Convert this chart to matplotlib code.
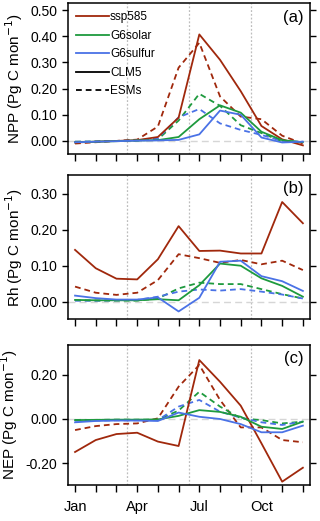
import matplotlib; matplotlib.use('Agg')
import numpy as np
import matplotlib.pyplot as plt
from matplotlib.lines import Line2D

plt.rcParams['font.family'] = ['Liberation Sans', 'DejaVu Sans']

months = np.arange(1, 13)
month_labels = ['Jan', '', '', 'Apr', '', '', 'Jul', '', '', 'Oct', '', '']

# NPP (Pg C mon-1)
npp_ssp585_clm = [-0.006, -0.003, 0.0, 0.003, 0.015, 0.089, 0.407, 0.31, 0.19, 0.057, 0.006, -0.017]
npp_ssp585_esm = [-0.01, -0.005, 0.0, 0.005, 0.055, 0.28, 0.375, 0.17, 0.093, 0.083, 0.02, -0.01]
npp_solar_clm = [-0.005, -0.003, -0.001, 0.002, 0.003, 0.015, 0.083, 0.136, 0.108, 0.035, 0.003, -0.005]
npp_solar_esm = [-0.003, -0.002, 0.0, 0.001, 0.006, 0.078, 0.18, 0.134, 0.06, 0.03, -0.002, -0.005]
npp_sulfur_clm = [-0.005, -0.003, -0.001, 0.001, 0.002, 0.004, 0.025, 0.116, 0.1, 0.013, -0.006, -0.003]
npp_sulfur_esm = [-0.003, -0.002, 0.0, 0.002, 0.01, 0.09, 0.122, 0.067, 0.042, 0.023, 0.0, -0.003]

# Rh (Pg C mon-1)
rh_ssp585_clm = [0.144, 0.093, 0.064, 0.062, 0.118, 0.21, 0.141, 0.142, 0.134, 0.134, 0.277, 0.218]
rh_ssp585_esm = [0.042, 0.025, 0.019, 0.025, 0.06, 0.132, 0.121, 0.108, 0.116, 0.104, 0.114, 0.088]
rh_solar_clm = [0.005, 0.004, 0.004, 0.004, 0.007, 0.004, 0.046, 0.106, 0.1, 0.065, 0.044, 0.014]
rh_solar_esm = [0.004, 0.003, 0.003, 0.003, 0.009, 0.037, 0.053, 0.049, 0.049, 0.035, 0.021, 0.009]
rh_sulfur_clm = [0.017, 0.01, 0.006, 0.006, 0.012, -0.027, 0.011, 0.111, 0.114, 0.071, 0.057, 0.03]
rh_sulfur_esm = [0.003, 0.003, 0.004, 0.005, 0.014, 0.028, 0.034, 0.031, 0.035, 0.028, 0.02, 0.009]

# NEP (Pg C mon-1)
nep_ssp585_clm = [-0.149, -0.095, -0.068, -0.062, -0.102, -0.122, 0.266, 0.168, 0.06, -0.11, -0.283, -0.22]
nep_ssp585_esm = [-0.05, -0.032, -0.023, -0.02, 0.003, 0.146, 0.244, 0.086, -0.038, -0.038, -0.095, -0.105]
nep_solar_clm = [-0.005, -0.004, -0.003, -0.003, -0.002, 0.014, 0.04, 0.032, 0.01, -0.035, -0.045, -0.012]
nep_solar_esm = [-0.004, -0.004, -0.003, -0.003, -0.003, 0.038, 0.123, 0.056, 0.003, -0.005, -0.02, -0.012]
nep_sulfur_clm = [-0.015, -0.009, -0.007, -0.007, -0.009, 0.029, 0.01, 0.0, -0.023, -0.06, -0.06, -0.03]
nep_sulfur_esm = [-0.008, -0.007, -0.006, -0.006, -0.005, 0.056, 0.086, 0.033, 0.006, -0.015, -0.027, -0.012]

c_ssp = '#a0280c'
c_solar = '#1e9a3e'
c_sulfur = '#4a72e6'
lw = 1.3
dash = (3.2, 2.2)

panels = [
  ('NPP', '(a)', (-0.05, 0.527), [0.0, 0.1, 0.2, 0.3, 0.4, 0.5],
   [npp_ssp585_clm, npp_solar_clm, npp_sulfur_clm],
   [npp_ssp585_esm, npp_solar_esm, npp_sulfur_esm]),
  ('Rh', '(b)', (-0.048, 0.352), [0.0, 0.1, 0.2, 0.3],
   [rh_ssp585_clm, rh_solar_clm, rh_sulfur_clm],
   [rh_ssp585_esm, rh_solar_esm, rh_sulfur_esm]),
  ('NEP', '(c)', (-0.298, 0.334), [-0.2, 0.0, 0.2],
   [nep_ssp585_clm, nep_solar_clm, nep_sulfur_clm],
   [nep_ssp585_esm, nep_solar_esm, nep_sulfur_esm]),
]
# axes rectangles in figure fractions
rects = [[0.2125, 0.7044, 0.756, 0.2898],
         [0.2125, 0.3877, 0.756, 0.2764],
         [0.2125, 0.0691, 0.756, 0.2687]]
colors = [c_ssp, c_solar, c_sulfur]

fig = plt.figure(figsize=(3.2, 5.21), dpi=100)
for i, (name, tag, ylim, yticks, clm, esm) in enumerate(panels):
  ax = fig.add_axes(rects[i])
  for xv in [3.5, 6.5, 9.5]:
    ax.axvline(xv, color='#bdbdbd', lw=0.9, ls=(0, (1.5, 1.5)), zorder=1)
  ax.axhline(0, color='#d6d6d6', lw=1.0, ls=(0, (5, 3)), zorder=1)
  for j in range(3):
    ax.plot(months, esm[j], color=colors[j], lw=lw, dashes=dash, zorder=3)
    ax.plot(months, clm[j], color=colors[j], lw=lw, zorder=4)
  ax.set_xlim(0.66, 12.34)
  ax.set_ylim(*ylim)
  ax.set_xticks(months)
  if i == 2:
    ax.set_xticklabels(month_labels)
  else:
    ax.set_xticklabels([])
  ax.set_yticks(yticks)
  ax.set_yticklabels(['%.2f' % v for v in yticks])
  ax.tick_params(axis='x', direction='out', length=5, width=1, bottom=True, top=False,
                 labelsize=10.5, pad=6)
  ax.tick_params(axis='y', direction='out', length=4, width=1, left=True, right=True, labelsize=10)
  for sp in ax.spines.values():
    sp.set_linewidth(1.1)
  ax.set_ylabel(name + ' (Pg C mon$^{-1}$)', fontsize=11, labelpad=4)
  ax.text(0.975, 0.955, tag, transform=ax.transAxes, ha='right', va='top', fontsize=12)
  if i == 0:
    handles = [Line2D([], [], color=c_ssp, lw=lw),
               Line2D([], [], color=c_solar, lw=lw),
               Line2D([], [], color=c_sulfur, lw=lw),
               Line2D([], [], color='black', lw=lw),
               Line2D([], [], color='black', lw=lw, dashes=dash)]
    ax.legend(handles, ['ssp585', 'G6solar', 'G6sulfur', 'CLM5', 'ESMs'],
              loc='upper left', bbox_to_anchor=(0.0, 1.0), frameon=False,
              fontsize=8.5, handlelength=2.8, handletextpad=0.05,
              labelspacing=0.55, borderaxespad=0.3)

fig.savefig('out.png', dpi=100)
